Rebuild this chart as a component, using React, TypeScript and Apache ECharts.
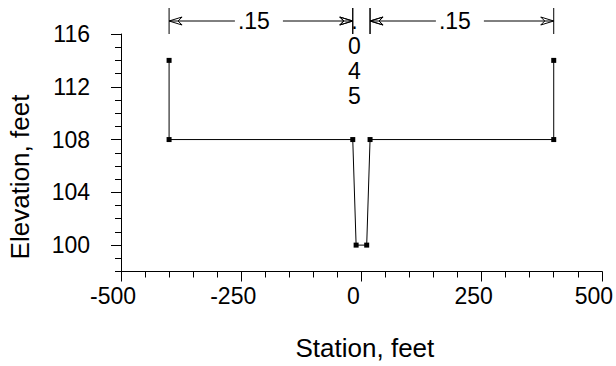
import React, { useEffect, useRef } from "react";
import * as echarts from "echarts";

const stations = [-400, -400, -18, -11, 11, 18, 400, 400];
const elevations = [114, 108, 108, 100, 100, 108, 108, 114];
const xTickLabels = [-500, -250, 0, 250, 500];
const yTickLabels = [100, 104, 108, 112, 116];
const dimFrom = [-400, -18, 18];
const dimTo = [-18, 18, 400];
const dimText = [".15", ".045", ".15"];

const FONT = "'Liberation Sans', Arial, sans-serif";

export default function App() {
  const ref = useRef<HTMLDivElement>(null);
  useEffect(() => {
    const chart = echarts.init(ref.current!, null, { renderer: "svg" });
    const black = "#000";
    chart.setOption({
      animation: false,
      grid: { left: 121, right: 13, top: 34, bottom: 94.5 },
      xAxis: [
        {
          type: "value",
          min: -500,
          max: 500,
          interval: 50,
          name: "Station, feet",
          nameLocation: "middle",
          nameGap: 63,
          nameTextStyle: { fontSize: 26, color: black, fontFamily: FONT, padding: [0, 0, 0, 7] },
          axisLine: { onZero: false, lineStyle: { color: black, width: 1 } },
          axisTick: { length: 6, lineStyle: { color: black } },
          axisLabel: {
            customValues: xTickLabels,
            fontSize: 23,
            color: black,
            fontFamily: FONT,
            margin: 13,
            padding: [0, 16, 0, 0],
          },
          splitLine: { show: false },
        },
        {
          type: "value",
          min: -500,
          max: 500,
          position: "bottom",
          offset: 0,
          axisLine: { show: false, onZero: false },
          axisTick: { customValues: xTickLabels, length: 10, lineStyle: { color: black } },
          axisLabel: { show: false },
          splitLine: { show: false },
        },
      ],
      yAxis: [
        {
          type: "value",
          min: 98,
          max: 116,
          interval: 1,
          axisLine: { show: true, onZero: false, lineStyle: { color: black, width: 1 } },
          axisTick: { show: true, length: 6, lineStyle: { color: black } },
          axisLabel: { customValues: yTickLabels, fontSize: 23, color: black, fontFamily: FONT, margin: 31 },
          splitLine: { show: false },
        },
        {
          type: "value",
          min: 98,
          max: 116,
          position: "left",
          offset: 0,
          axisLine: { show: false, onZero: false },
          axisTick: { show: true, customValues: yTickLabels, length: 10, lineStyle: { color: black } },
          axisLabel: { show: false },
          splitLine: { show: false },
        },
      ],
      series: [
        {
          type: "line",
          xAxisIndex: 0,
          yAxisIndex: 0,
          data: stations.map((s, i) => [s, elevations[i]]),
          symbol: "rect",
          symbolSize: 5,
          showSymbol: true,
          clip: false,
          lineStyle: { color: black, width: 1 },
          itemStyle: { color: black },
        },
      ],
    });

    const toPx = (x: number, y: number) =>
      chart.convertToPixel({ xAxisIndex: 0, yAxisIndex: 0 }, [x, y]) as number[];
    const yTop = toPx(0, 116)[1];
    const lineY = yTop - 13;
    const els: any[] = [];
    const lineStyle = { stroke: "#000", lineWidth: 1 };
    const arrow = (tip: number, dir: number) => ({
      type: "polygon",
      shape: {
        points: [
          [tip, lineY],
          [tip + dir * 13, lineY - 4],
          [tip + dir * 9, lineY],
          [tip + dir * 13, lineY + 4],
        ],
      },
      style: { fill: "none", stroke: "#000", lineWidth: 1 },
      silent: true,
    });
    dimFrom.forEach((from, i) => {
      const p0 = toPx(from, 116)[0];
      const p1 = toPx(dimTo[i], 116)[0];
      const mid = (p0 + p1) / 2;
      [p0, p1].forEach((p) =>
        els.push({ type: "line", shape: { x1: p, y1: lineY - 13, x2: p, y2: yTop }, style: lineStyle, silent: true })
      );
      if (p1 - p0 > 60) {
        els.push({ type: "line", shape: { x1: p0, y1: lineY, x2: mid - 26, y2: lineY }, style: lineStyle, silent: true });
        els.push({ type: "line", shape: { x1: mid + 22, y1: lineY, x2: p1, y2: lineY }, style: lineStyle, silent: true });
        els.push(arrow(p0, 1));
        els.push(arrow(p1, -1));
        els.push({
          type: "text",
          x: mid - 7,
          y: lineY,
          style: { text: dimText[i], fontSize: 23, fontFamily: FONT, fill: "#000", align: "center", verticalAlign: "middle" },
          silent: true,
        });
      } else {
        els.push(arrow(p0, -1));
        els.push(arrow(p1, 1));
        els.push({
          type: "text",
          x: mid - 7,
          y: lineY - 12.5,
          style: {
            text: dimText[i].split("").join("\n"),
            fontSize: 23,
            lineHeight: 25,
            fontFamily: FONT,
            fill: "#000",
            align: "center",
            verticalAlign: "top",
          },
          silent: true,
        });
      }
    });
    els.push({
      type: "text",
      x: 20,
      y: 177,
      rotation: Math.PI / 2,
      style: { text: "Elevation, feet", fontSize: 26, fontFamily: FONT, fill: "#000", align: "center", verticalAlign: "middle" },
      silent: true,
    });
    chart.setOption({ graphic: els });
    return () => chart.dispose();
  }, []);
  return <div ref={ref} style={{ width: 616, height: 366, position: "absolute", left: 0, top: 0, background: "#fff" }} />;
}
